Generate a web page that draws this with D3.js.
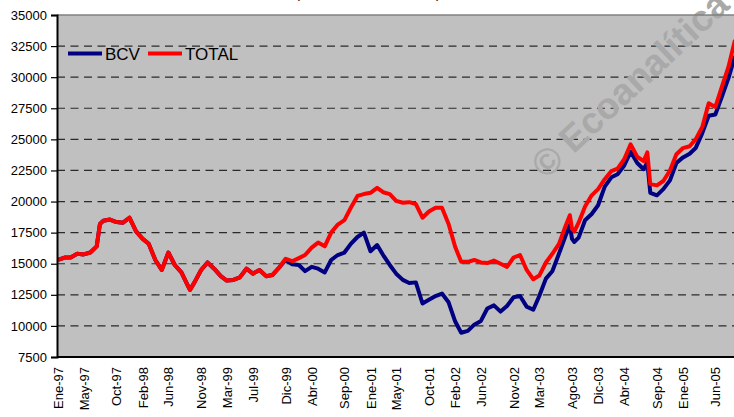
<!DOCTYPE html>
<html lang="es">
<head>
  <meta charset="UTF-8">
  <title>BCV y TOTAL</title>
  <style>
    body { margin: 0; background: #fff; }
    svg { display: block; font-family: Arial, "Liberation Sans", sans-serif; }
    .grid line { stroke: #2a2a2a; stroke-width: 1.2px; stroke-dasharray: 8 5.5; }
    .axis text { font-size: 13px; fill: #000; }
    .axis line { stroke: #000; }
  </style>
</head>
<body>
  <script src="https://cdnjs.cloudflare.com/ajax/libs/d3/7.8.5/d3.min.js"></script>
  <svg></svg>
  <script>
    // fechas (mensuales, con algunos puntos intermedios)
    var dates = [
      '1997-01-01','1997-02-01','1997-03-01','1997-04-01','1997-05-01','1997-06-01','1997-07-01','1997-07-16',
      '1997-08-01','1997-09-01','1997-10-01','1997-11-01','1997-12-01',
      '1998-01-01','1998-02-01','1998-03-01','1998-04-01','1998-05-01','1998-06-01','1998-07-01','1998-08-01',
      '1998-09-01','1998-09-10','1998-10-01','1998-11-01','1998-12-01',
      '1999-01-01','1999-02-01','1999-03-01','1999-04-01','1999-05-01','1999-06-01','1999-07-01','1999-08-01',
      '1999-09-01','1999-10-01','1999-11-01','1999-12-01',
      '2000-01-01','2000-02-01','2000-03-01','2000-04-01','2000-05-01','2000-06-01','2000-07-01','2000-08-01',
      '2000-09-01','2000-10-01','2000-11-01','2000-12-01',
      '2001-01-01','2001-02-01','2001-03-01','2001-04-01','2001-05-01','2001-06-01','2001-07-01','2001-08-01',
      '2001-09-01','2001-10-01','2001-11-01','2001-12-01',
      '2002-01-01','2002-02-01','2002-03-01','2002-04-01','2002-05-01','2002-06-01','2002-07-01','2002-08-01',
      '2002-09-01','2002-10-01','2002-11-01','2002-12-01',
      '2003-01-01','2003-02-01','2003-03-01','2003-04-01','2003-05-01','2003-06-01','2003-07-01','2003-07-22',
      '2003-08-01','2003-08-12','2003-09-01','2003-10-01','2003-11-01','2003-12-01',
      '2004-01-01','2004-02-01','2004-03-01','2004-04-01','2004-05-01','2004-06-01','2004-07-01','2004-07-18',
      '2004-08-01','2004-09-01','2004-10-01','2004-11-01','2004-12-01',
      '2005-01-01','2005-02-01','2005-03-01','2005-04-01','2005-05-01','2005-06-01','2005-07-01','2005-08-01',
      '2005-09-01'
    ];

    var total = [
      15300,15500,15500,15800,15750,15900,16400,18200,
      18450,18550,18350,18300,18700,
      17600,17000,16600,15300,14500,15900,14900,14300,
      13200,12900,13500,14500,15100,
      14600,14000,13650,13700,13900,14600,14200,14500,
      14000,14100,14700,15400,
      15200,15450,15700,16300,16700,16400,17500,18150,
      18500,19500,20450,20600,
      20700,21100,20750,20600,20050,19900,19950,19800,
      18700,19200,19500,19500,
      18200,16350,15150,15150,15300,15100,15050,15250,
      15000,14750,15500,15700,
      14500,13750,14050,15100,15800,16600,18000,18900,
      17800,17600,18300,19600,20500,21000,
      21800,22450,22650,23400,24600,23600,23250,23950,
      21400,21300,21650,22500,23800,
      24300,24450,25000,26000,27900,27600,29200,30800,
      33000
    ];

    var bcv = [
      15300,15500,15500,15800,15750,15900,16400,18200,
      18450,18550,18350,18300,18700,
      17600,17000,16600,15300,14500,15900,14900,14300,
      13200,12900,13500,14500,15100,
      14600,14000,13650,13700,13900,14600,14200,14500,
      14000,14100,14700,15300,
      14950,14900,14400,14750,14600,14300,15300,15700,
      15900,16600,17150,17500,
      16000,16500,15700,14900,14200,13700,13450,13500,
      11800,12100,12400,12600,
      11900,10350,9450,9600,10100,10400,11400,11650,
      11150,11600,12300,12400,
      11550,11300,12400,13800,14400,15800,17200,18100,
      17000,16750,17100,18500,19000,19700,
      21200,21950,22200,22900,24000,23100,22600,23150,
      20700,20500,21000,21700,23100,
      23550,23850,24300,25500,26900,27000,28400,29900,
      31700
    ];

    var xTickLabels = ['Ene-97','May-97','Oct-97','Feb-98','Jun-98','Nov-98','Mar-99','Jul-99',
      'Dic-99','Abr-00','Sep-00','Ene-01','May-01','Oct-01','Feb-02','Jun-02','Nov-02','Mar-03',
      'Ago-03','Dic-03','Abr-04','Sep-04','Ene-05','Jun-05'];
    var yTicks = [7500,10000,12500,15000,17500,20000,22500,25000,27500,30000,32500,35000];

    var width = 734, height = 417;
    var plot = {left: 57, top: 15, right: 734, bottom: 357};

    var meses = {Ene:0, Feb:1, Mar:2, Abr:3, May:4, Jun:5, Jul:6, Ago:7, Sep:8, Oct:9, Nov:10, Dic:11};
    var parse = d3.timeParse('%Y-%m-%d');
    function labelDate(s) {
      var p = s.split('-');
      return new Date(2000 + (+p[1] > 50 ? +p[1] - 100 : +p[1]), meses[p[0]], 1);
    }
    var tickDates = xTickLabels.map(labelDate);
    var labelOf = new Map(tickDates.map(function(d, i) { return [+d, xTickLabels[i]]; }));

    var data = dates.map(function(d, i) {
      return {date: parse(d), bcv: bcv[i], total: total[i]};
    });

    var svg = d3.select('svg').attr('width', width).attr('height', height);

    var x = d3.scaleTime()
      .domain([new Date(1997, 0, 1), new Date(2005, 8, 1)])
      .range([58, 735]);
    var y = d3.scaleLinear()
      .domain([7500, 35000])
      .range([plot.bottom, plot.top]);

    // title, cut off at the top of the picture
    svg.append('text')
      .attr('x', 368).attr('y', -2)
      .attr('text-anchor', 'middle')
      .style('font-size', '14px')
      .text('(Millardos de bolívares)');

    // plot area
    svg.append('rect')
      .attr('x', plot.left).attr('y', plot.top)
      .attr('width', plot.right - plot.left + 2).attr('height', plot.bottom - plot.top)
      .attr('fill', '#c0c0c0');

    svg.append('defs').append('clipPath').attr('id', 'clip')
      .append('rect')
      .attr('x', plot.left).attr('y', plot.top)
      .attr('width', plot.right - plot.left).attr('height', plot.bottom - plot.top);

    // grid lines
    svg.append('g').attr('class', 'grid')
      .selectAll('line')
      .data(yTicks.filter(function(v) { return v > 7500 && v < 35000; }))
      .enter().append('line')
        .attr('x1', plot.left).attr('x2', plot.right)
        .attr('y1', function(d) { return y(d); })
        .attr('y2', function(d) { return y(d); });

    // watermark
    svg.append('text')
      .attr('transform', 'translate(546,180) rotate(-43)')
      .style('font-size', '37px')
      .style('font-weight', 'bold')
      .attr('fill', '#a9a9a9')
      .text('© Ecoanalítica');

    // lines
    var lineBcv = d3.line()
      .x(function(d) { return x(d.date); })
      .y(function(d) { return y(d.bcv); });
    var lineTotal = d3.line()
      .x(function(d) { return x(d.date); })
      .y(function(d) { return y(d.total); });

    var lines = svg.append('g').attr('clip-path', 'url(#clip)');
    lines.append('path').datum(data)
      .attr('d', lineBcv)
      .attr('fill', 'none').attr('stroke', '#000080')
      .attr('stroke-width', 4).attr('stroke-linejoin', 'round');
    lines.append('path').datum(data)
      .attr('d', lineTotal)
      .attr('fill', 'none').attr('stroke', '#ff0000')
      .attr('stroke-width', 4).attr('stroke-linejoin', 'round');

    // top border
    svg.append('line')
      .attr('x1', plot.left).attr('x2', width)
      .attr('y1', plot.top).attr('y2', plot.top)
      .attr('stroke', '#808080').attr('stroke-width', 1.5);

    // axes
    var yAxis = svg.append('g').attr('class', 'axis')
      .attr('transform', 'translate(' + plot.left + ',0)')
      .call(d3.axisLeft(y).tickValues(yTicks).tickSize(6).tickPadding(4).tickFormat(d3.format('d')));
    yAxis.select('.domain').attr('stroke', '#000').attr('stroke-width', 2);
    yAxis.selectAll('.tick line').attr('stroke-width', 1.2);

    var xAxis = svg.append('g').attr('class', 'axis')
      .attr('transform', 'translate(0,' + plot.bottom + ')')
      .call(d3.axisBottom(x).tickValues(tickDates).tickSize(0).tickSizeOuter(0)
        .tickFormat(function(d) { return labelOf.get(+d); }));
    xAxis.select('.domain').attr('stroke', '#000').attr('stroke-width', 2)
      .attr('d', 'M' + plot.left + ',0H' + width);
    xAxis.selectAll('text')
      .attr('transform', 'rotate(-90)')
      .attr('text-anchor', 'end')
      .attr('x', -10).attr('y', 0).attr('dy', '0.35em');

    // legend
    var legend = svg.append('g').attr('transform', 'translate(68,53.5)');
    var items = [{name: 'BCV', color: '#000080', dx: 0}, {name: 'TOTAL', color: '#ff0000', dx: 80}];
    items.forEach(function(it) {
      legend.append('line')
        .attr('x1', it.dx).attr('x2', it.dx + 34)
        .attr('stroke', it.color).attr('stroke-width', 4);
      legend.append('text')
        .attr('x', it.dx + 37).attr('y', 6)
        .style('font-size', '17px')
        .text(it.name);
    });
  </script>
</body>
</html>
